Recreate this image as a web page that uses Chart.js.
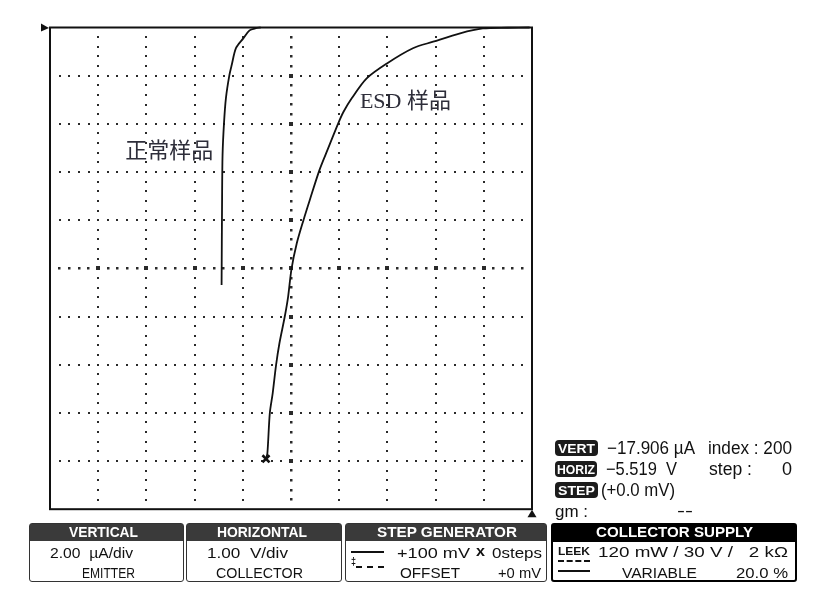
<!DOCTYPE html>
<html>
<head>
<meta charset="utf-8">
<script src="https://cdn.jsdelivr.net/npm/chart.js@4/dist/chart.umd.min.js"></script>
<style>
  html, body { margin: 0; padding: 0; background: #fff; }
  #wrap { position: relative; width: 826px; height: 612px; overflow: hidden; background: #fff; }
  #c { position: absolute; left: 0; top: 0; }
  .t { position: absolute; white-space: pre; font-family: "Liberation Sans", Arial, sans-serif; color: #111; display: inline-block; transform-origin: 0 50%; }
  .box { position: absolute; border: 1.5px solid #333; border-radius: 3px; box-sizing: border-box; background: #fff; }
  .hdr { position: absolute; left: 0; right: 0; top: 0; height: 17px; background: #3a3a3a; }
  .badge { position: absolute; height: 16px; background: #1c1c1c; border-radius: 4px; }
  .ln { position: absolute; height: 0; border-top: 2px solid #111; }
  .dl { position: absolute; height: 0; border-top: 2px dashed #111; }
</style>
</head>
<body>
<div id="wrap">
  <canvas id="c" width="826" height="612"></canvas>
</div>
<script>
// ---------------- data ----------------
// axis ranges / ticks: 1.00 V/div horizontally, 2.00 uA/div vertically
const xTicks = [-10, -9, -8, -7, -6, -5, -4, -3, -2, -1, 0];      // V
const yTicks = [-20, -18, -16, -14, -12, -10, -8, -6, -4, -2, 0]; // uA

// 正常样品 (normal sample)
const normalV = [-5.63, -5.73, -5.86, -5.99, -6.14, -6.23, -6.28, -6.35, -6.39, -6.42, -6.43, -6.44];
const normalI = [0.00, -0.03, -0.12, -0.45, -0.85, -1.56, -2.00, -2.93, -3.97, -5.29, -7.16, -10.69];

// ESD 样品 (ESD sample)
const esdV = [-0.05, -0.50, -1.02, -1.49, -2.05, -2.47, -3.01, -3.43, -3.74, -3.91, -4.02, -4.23, -4.41,
              -4.61, -4.74, -4.88, -4.99, -5.06, -5.13, -5.24, -5.31, -5.38, -5.44, -5.49, -5.519];
const esdI = [0.00, -0.01, -0.04, -0.24, -0.59, -0.86, -1.49, -2.11, -2.94, -3.50, -3.98, -5.02, -5.92,
              -7.16, -7.99, -8.96, -10.03, -11.18, -12.01, -13.11, -14.02, -15.19, -16.02, -17.68, -17.906];

// cursor
const cursorV = [-5.519];
const cursorI = [-17.906];

// in-plot labels
const labelText = ['正常样品', 'ESD 样品'];
const labelV = [-8.44, -3.57];
const labelI = [-5.17, -3.09];

// ---------------- chart ----------------
const pts = (xs, ys) => xs.map((x, i) => ({ x: x, y: ys[i] }));

const gridPlugin = {
  id: 'scopeGrid',
  beforeDatasetsDraw(chart) {
    const { ctx, chartArea: a, scales: { x, y } } = chart;
    ctx.save();
    ctx.fillStyle = '#2a2a2a';
    const dx = (xTicks[1] - xTicks[0]) / 5, dy = (yTicks[1] - yTicks[0]) / 5;
    const cx = (xTicks[0] + xTicks[xTicks.length - 1]) / 2;
    const cy = (yTicks[0] + yTicks[yTicks.length - 1]) / 2;
    const dot = (px, py, s) => ctx.fillRect(Math.round(px - s / 2), Math.round(py - s / 2), s, s);
    for (let i = 1; i < xTicks.length - 1; i++) {
      const v = xTicks[i], px = x.getPixelForValue(v);
      const center = Math.abs(v - cx) < 1e-9;
      for (let k = 1; k < (yTicks.length - 1) * 5; k++) {
        const yy = yTicks[0] + k * dy;
        const major = k % 5 === 0;
        dot(px, y.getPixelForValue(yy), center ? (major ? 4 : 2.5) : 2);
      }
    }
    for (let j = 1; j < yTicks.length - 1; j++) {
      const v = yTicks[j], py = y.getPixelForValue(v);
      const center = Math.abs(v - cy) < 1e-9;
      for (let k = 1; k < (xTicks.length - 1) * 5; k++) {
        const xx = xTicks[0] + k * dx;
        const major = k % 5 === 0;
        dot(x.getPixelForValue(xx), py, center ? (major ? 4 : 2.5) : 2);
      }
    }
    ctx.strokeStyle = '#111';
    ctx.lineWidth = 2;
    ctx.strokeRect(a.left, a.top, a.right - a.left, a.bottom - a.top);
    ctx.fillStyle = '#111';
    ctx.beginPath();
    ctx.moveTo(a.left - 9, a.top - 4);
    ctx.lineTo(a.left - 9, a.top + 4);
    ctx.lineTo(a.left - 1, a.top + 0.5);
    ctx.closePath(); ctx.fill();
    ctx.beginPath();
    ctx.moveTo(a.right - 4.5, a.bottom + 8);
    ctx.lineTo(a.right + 4.5, a.bottom + 8);
    ctx.lineTo(a.right, a.bottom + 0.5);
    ctx.closePath(); ctx.fill();
    ctx.restore();
  },
  afterDatasetsDraw(chart) {
    const { ctx, scales: { x, y } } = chart;
    ctx.save();
    ctx.fillStyle = '#2e2e3a';
    ctx.font = '22px "Liberation Serif", "Noto Sans CJK SC", serif';
    ctx.textBaseline = 'middle';
    ctx.textAlign = 'left';
    labelText.forEach((s, i) => ctx.fillText(s, x.getPixelForValue(labelV[i]), y.getPixelForValue(labelI[i])));
    ctx.restore();
  }
};

new Chart(document.getElementById('c'), {
  type: 'scatter',
  data: {
    datasets: [
      { data: pts(normalV, normalI), showLine: true, borderColor: '#111', borderWidth: 1.8, pointRadius: 0, tension: 0.3, clip: 4 },
      { data: pts(esdV, esdI), showLine: true, borderColor: '#111', borderWidth: 1.8, pointRadius: 0, tension: 0.3, clip: 4 },
      { data: pts(cursorV, cursorI), showLine: false, pointStyle: 'crossRot', pointRadius: 5, borderWidth: 2.6, borderColor: '#111', backgroundColor: '#111', clip: 8 }
    ]
  },
  options: {
    responsive: false,
    animation: false,
    devicePixelRatio: 1,
    layout: { padding: { left: 50, top: 27.5, right: 294, bottom: 102.8 } },
    scales: {
      x: { type: 'linear', min: xTicks[0], max: xTicks[xTicks.length - 1], display: false },
      y: { type: 'linear', min: yTicks[0], max: yTicks[yTicks.length - 1], display: false }
    },
    plugins: { legend: { display: false }, tooltip: { enabled: false } },
    events: []
  },
  plugins: [gridPlugin]
});

// ---------------- instrument read-out / panels (HTML text) ----------------
const wrap = document.getElementById('wrap');
const fitList = [];
function el(cls, css, parent) {
  const d = document.createElement('div');
  d.className = cls;
  Object.assign(d.style, css);
  (parent || wrap).appendChild(d);
  return d;
}
function txt(s, x1, x2, cy, size, extra) {
  const d = el('t', Object.assign({ left: x1 + 'px', top: (cy - size / 2) + 'px', fontSize: size + 'px', lineHeight: size + 'px', height: size + 'px' }, extra || {}));
  d.textContent = s;
  if (x2 !== null) fitList.push([d, x2 - x1]);
  return d;
}
function fitAll() {
  fitList.forEach(([d, w]) => {
    d.style.transform = 'none';
    const r = d.getBoundingClientRect().width;
    if (r > 0) d.style.transform = 'scaleX(' + (w / r) + ')';
  });
}
const fmt = v => (v < 0 ? '\u2212' : '') + Math.abs(v).toFixed(3);

el('badge', { left: '555px', top: '440px', width: '43px' });
txt('VERT', 558, 595, 448, 13, { color: '#fff', fontWeight: 'bold' });
txt(fmt(cursorI[0]) + ' µA', 607, 695, 448, 18);
txt('index : 200', 708, 792, 448, 18);

el('badge', { left: '555px', top: '461px', width: '42px' });
txt('HORIZ', 557, 595, 469, 13, { color: '#fff', fontWeight: 'bold' });
txt(fmt(cursorV[0]) + '  V', 606, 677, 469, 18);
txt('step :', 709, 752, 469, 18);
txt('0', 782, null, 469, 18);

el('badge', { left: '555px', top: '482px', width: '43px' });
txt('STEP', 558, 595, 490, 13, { color: '#fff', fontWeight: 'bold' });
txt('(+0.0 mV)', 601, 675, 490, 18);

txt('gm :', 555, 588, 511, 17);
txt('--', 677, 693, 510, 17);

function box(x1, x2, black) {
  const b = el('box', { left: x1 + 'px', top: '523px', width: (x2 - x1) + 'px', height: '59px', borderColor: black ? '#000' : '#333', borderWidth: black ? '2px' : '1.5px' });
  el('hdr', { background: black ? '#000' : '#3a3a3a' }, b);
}
box(29, 184, false);
box(186, 342, false);
box(345, 547, false);
box(551, 797, true);

const H = { color: '#fff', fontWeight: 'bold' };
txt('VERTICAL', 69, 138, 532, 14, H);
txt('HORIZONTAL', 217, 307, 532, 14, H);
txt('STEP GENERATOR', 377, 517, 532, 14, H);
txt('COLLECTOR SUPPLY', 596, 753, 532, 14, H);

txt('2.00  µA/div', 50, 133, 552, 15);
txt('EMITTER', 82, 135, 572, 15);
txt('1.00  V/div', 207, 288, 552, 15);
txt('COLLECTOR', 216, 303, 572, 15);

el('ln', { left: '351px', top: '551px', width: '33px' });
txt('‡', 351, 356, 561, 11, { fontWeight: 'bold' });
el('dl', { left: '356px', top: '566px', width: '28px' });
txt('+100 mV', 397, 470, 552, 15);
txt('x', 476, 485, 551, 14, { fontWeight: 'bold' });
txt('0steps', 492, 542, 552, 15);
txt('OFFSET', 400, 460, 572, 15);
txt('+0 mV', 498, 541, 572, 15);

txt('LEEK', 558, 590, 552, 10, { fontWeight: 'bold' });
el('dl', { left: '558px', top: '560px', width: '32px' });
el('ln', { left: '558px', top: '570px', width: '32px' });
txt('120 mW / 30 V /   2 kΩ', 598, 788, 551, 15);
txt('VARIABLE', 622, 697, 572, 15);
txt('20.0 %', 736, 788, 572, 15);

fitAll();
if (document.fonts && document.fonts.ready) document.fonts.ready.then(fitAll);
</script>
</body>
</html>
